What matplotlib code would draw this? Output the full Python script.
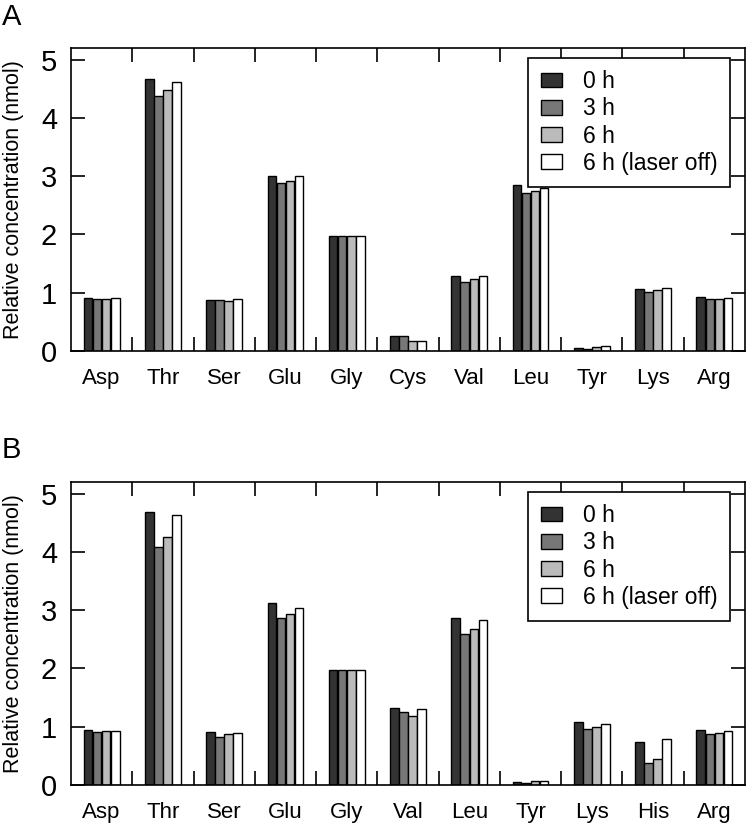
import numpy as np
import matplotlib.pyplot as plt
import matplotlib.ticker as mtk

plt.rcParams['font.family'] = ['Liberation Sans', 'DejaVu Sans']

# panel A data
cats_a = ['Asp', 'Thr', 'Ser', 'Glu', 'Gly', 'Cys', 'Val', 'Leu', 'Tyr', 'Lys', 'Arg']
a_0h = [0.91, 4.66, 0.88, 3.01, 1.98, 0.25, 1.28, 2.85, 0.05, 1.06, 0.92]
a_3h = [0.89, 4.37, 0.88, 2.88, 1.98, 0.26, 1.19, 2.71, 0.03, 1.01, 0.90]
a_6h = [0.89, 4.48, 0.86, 2.92, 1.98, 0.17, 1.24, 2.74, 0.07, 1.04, 0.89]
a_off = [0.91, 4.61, 0.89, 3.00, 1.98, 0.17, 1.29, 2.80, 0.09, 1.08, 0.91]

# panel B data
cats_b = ['Asp', 'Thr', 'Ser', 'Glu', 'Gly', 'Val', 'Leu', 'Tyr', 'Lys', 'His', 'Arg']
b_0h = [0.95, 4.68, 0.91, 3.12, 1.98, 1.33, 2.86, 0.05, 1.08, 0.73, 0.95]
b_3h = [0.91, 4.09, 0.83, 2.86, 1.98, 1.25, 2.60, 0.04, 0.96, 0.37, 0.87]
b_6h = [0.93, 4.25, 0.87, 2.94, 1.98, 1.19, 2.67, 0.07, 0.99, 0.44, 0.89]
b_off = [0.93, 4.64, 0.90, 3.04, 1.98, 1.30, 2.84, 0.07, 1.05, 0.79, 0.93]

labels = ['0 h', '3 h', '6 h', '6 h (laser off)']
colors = ['#333333', '#777777', '#bbbbbb', '#ffffff']


def draw_panel(ax, cats, series):
    x = np.arange(len(cats))
    w = 0.14
    step = 0.148
    for i, vals in enumerate(series):
        ax.bar(x + (i - 1.5) * step, vals, width=w, color=colors[i],
               edgecolor='black', linewidth=1.0, label=labels[i])
    ax.set_xlim(-0.5, len(cats) - 0.5)
    ax.set_ylim(0, 5.2)
    ax.set_xticks(x)
    ax.set_xticklabels(cats, fontsize=16)
    ax.xaxis.set_minor_locator(mtk.FixedLocator(np.arange(0.5, len(cats) - 0.5)))
    ax.tick_params(axis='x', which='major', length=0, pad=12)
    ax.tick_params(axis='x', which='minor', direction='in', length=10,
                   width=1.2, top=True, bottom=True)
    ax.set_yticks([0, 1, 2, 3, 4, 5])
    ax.tick_params(axis='y', direction='in', length=10, width=1.2,
                   left=True, right=True, labelsize=21, pad=10)
    for s in ax.spines.values():
        s.set_linewidth(1.2)
    ax.set_ylabel('Relative concentration (nmol)', fontsize=15.5)
    ax.yaxis.set_label_coords(-0.07, 0.5)
    leg = ax.legend(loc='upper right', bbox_to_anchor=(0.978, 0.968),
                    fontsize=16.5, fancybox=False, edgecolor='black',
                    handlelength=0.95, handleheight=0.6, handletextpad=0.9,
                    labelspacing=0.18, borderpad=0.55, borderaxespad=0,
                    framealpha=1)
    leg.get_frame().set_linewidth(1.2)


fig = plt.figure(figsize=(7.5, 8.25), dpi=100)
ax1 = fig.add_axes([71 / 750, 1 - 351 / 825, 674 / 750, 303 / 825])
ax2 = fig.add_axes([71 / 750, 1 - 785 / 825, 674 / 750, 303 / 825])
draw_panel(ax1, cats_a, [a_0h, a_3h, a_6h, a_off])
draw_panel(ax2, cats_b, [b_0h, b_3h, b_6h, b_off])

fig.text(2 / 750, 1 - 17 / 825, 'A', fontsize=21, va='center', ha='left')
fig.text(2 / 750, 1 - 450 / 825, 'B', fontsize=21, va='center', ha='left')

fig.savefig('out.png', dpi=100)
